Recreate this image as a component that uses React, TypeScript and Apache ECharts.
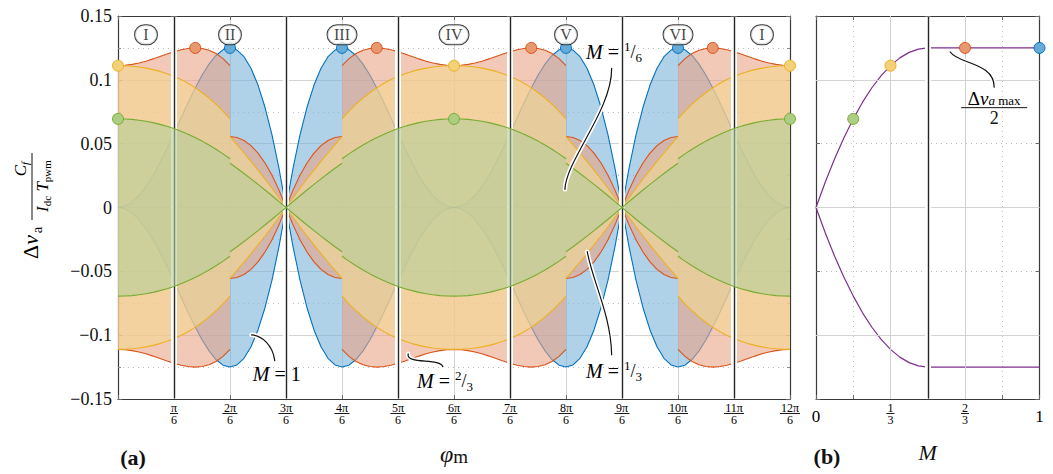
import { useEffect, useRef } from "react";
import * as echarts from "echarts";

// ---------------------------------------------------------------------------
// Data
// ---------------------------------------------------------------------------

// Spacing of the envelope tables below, in units of π/6.
const STEP = 0.125;

// Upper ripple envelope (Δv_a · C_f / (I_dc T_pwm)) over one quarter period,
// φm ∈ [0, 3π/6]. M = 1 is continuous; the other modulation indices jump at
// 2π/6, so they are given as the part before (Lead: 0 → 2π/6) and after
// (Tail: 2π/6 → 3π/6) that jump.
const envM1 = [
  0, 0.0011, 0.0042, 0.0094, 0.0165, 0.0251, 0.0352, 0.0463, 0.058, 0.0701,
  0.082, 0.0933, 0.1036, 0.1123, 0.1191, 0.1235, 0.125, 0.1233, 0.1181, 0.1091,
  0.0959, 0.0785, 0.0568, 0.0306, 0,
];
const envM23Lead = [
  0.1111, 0.1114, 0.1121, 0.1132, 0.1146, 0.1164, 0.1183, 0.1202, 0.122,
  0.1235, 0.1246, 0.125, 0.1246, 0.1232, 0.1206, 0.1166, 0.1111,
];
const envM23Tail = [0.0556, 0.0548, 0.0525, 0.0485, 0.0426, 0.0349, 0.0252, 0.0136, 0];
const envM13Lead = [
  0.1111, 0.111, 0.1106, 0.11, 0.1092, 0.108, 0.1066, 0.1048, 0.1027, 0.1002,
  0.0973, 0.0939, 0.0901, 0.0857, 0.0809, 0.0755, 0.0694,
];
const envM13Tail = [0.0556, 0.0492, 0.0427, 0.0361, 0.0293, 0.0223, 0.0151, 0.0076, 0];
const envM16Lead = [
  0.0694, 0.0693, 0.069, 0.0684, 0.0675, 0.0665, 0.0651, 0.0636, 0.0618,
  0.0597, 0.0574, 0.0548, 0.052, 0.0489, 0.0456, 0.042, 0.0382,
];
const envM16Tail = [0.0347, 0.0307, 0.0266, 0.0224, 0.0181, 0.0137, 0.0092, 0.0046, 0];

// Maxima marked on the envelopes (φm in units of π/6, value).
const peaksM1 = [[2, 0.125], [4, 0.125], [8, 0.125], [10, 0.125]];
const peaksM23 = [[1.38, 0.125], [4.62, 0.125], [7.38, 0.125], [10.62, 0.125]];
const peaksM13 = [[0, 0.1111], [6, 0.1111], [12, 0.1111]];
const peaksM16 = [[0, 0.0694], [6, 0.0694], [12, 0.0694]];

// Sector boundaries (π/6, 3π/6, …) and sector names.
const sectorEdges = [1, 3, 5, 7, 9, 11];
const sectorNames = ["I", "II", "III", "IV", "V", "VI", "I"];
const sectorLabelX = [0.5, 2, 4, 6, 8, 10, 11.5];
const sectorLabelY = 0.1353;

// Panel (b): maximum ripple against modulation index M.
const mRise = [0, 0.0417, 0.0833, 0.125, 0.1667, 0.2083, 0.25, 0.2917, 0.3333, 0.375, 0.4167, 0.4583, 0.5];
const rippleRise = [0, 0.02, 0.0382, 0.0547, 0.0694, 0.0825, 0.0938, 0.1033, 0.1111, 0.1172, 0.1215, 0.1241, 0.125];
const ripplePlateau = [[0.5, 0.125], [1, 0.125]];
const mBoundary = 0.5;
const mMarkers = [[1 / 6, 0.0694], [1 / 3, 0.1111], [2 / 3, 0.125], [1, 0.125]];

// Tick labels.
const phiTickNumerators = ["", "π", "2π", "3π", "4π", "5π", "6π", "7π", "8π", "9π", "10π", "11π", "12π"];
const phiTickDenominator = "6";
const mTickLabels = ["0", "", "1/3", "", "2/3", "", "1"];

// ---------------------------------------------------------------------------
// Styling
// ---------------------------------------------------------------------------

const FONT = '"Liberation Serif", "DejaVu Serif", serif';
const INK = "#111111";
const FRAME = "#3a3a3a";
const GRID_SOLID = "#d3d3d3";
const GRID_DOT = "#bdbdbd";

const C_M1 = "#0072BD";
const C_M23 = "#D95319";
const C_M13 = "#EDB120";
const C_M16 = "#77AC30";
const C_PURPLE = "#7E2F8E";

const F_M1 = "rgba(122,180,217,0.6)";
const F_M23 = "rgba(233,163,135,0.6)";
const F_M13 = "rgba(244,217,145,0.6)";
const F_M16 = "rgba(180,207,152,0.6)";

const D_M1 = "#66AAD7";
const D_M23 = "#E8986F";
const D_M13 = "#F4D079";
const D_M16 = "#ADCD83";

// Leader lines: cubic Bézier (start, control 1, control 2, end) in data units.
const leaders = [
  { grid: 0, path: [[2.385, -0.0997], [2.567, -0.1005], [2.763, -0.1075], [2.799, -0.12]] },
  { grid: 0, path: [[5.181, -0.1146], [5.14, -0.1232], [5.748, -0.1177], [5.801, -0.1247]] },
  { grid: 0, path: [[8.38, -0.0346], [8.464, -0.0567], [8.803, -0.0841], [8.815, -0.1153]] },
  { grid: 0, path: [[7.981, 0.0142], [7.999, 0.0371], [8.821, 0.0763], [8.815, 0.1089]] },
  { grid: 1, path: [[0.6006, 0.1218], [0.6364, 0.1122], [0.7974, 0.1138], [0.7974, 0.0942]] },
];

// ---------------------------------------------------------------------------
// Helpers
// ---------------------------------------------------------------------------

type Pt = [number, number | null];

// One quarter period [0, 3] with an optional break at 2π/6.
function quarter(lead: number[], tail?: number[]): Pt[] {
  const pts: Pt[] = lead.map((v, i) => [i * STEP, v] as Pt);
  if (tail) {
    pts.push([2, null]);
    tail.forEach((v, i) => pts.push([2 + i * STEP, v]));
  }
  return pts;
}

// Quarter → full turn: mirror about 3π/6, then repeat after π.
function fullTurn(q: Pt[]): Pt[] {
  const half: Pt[] = [...q, ...q.slice().reverse().map(([x, y]) => [6 - x, y] as Pt)];
  return [...half, ...half.map(([x, y]) => [x + 6, y] as Pt)];
}

const negate = (pts: Pt[]): Pt[] => pts.map(([x, y]) => [x, y == null ? null : -y] as Pt);

// Upper and lower halves of one envelope band; later bands sit on top.
function band(pts: Pt[], stroke: string, fill: string, z: number) {
  const common = {
    type: "line",
    xAxisIndex: 0,
    yAxisIndex: 0,
    showSymbol: false,
    symbol: "none",
    silent: true,
    connectNulls: false,
    lineStyle: { color: stroke, width: 1.1 },
    areaStyle: { color: fill, opacity: 1 },
    z,
  };
  return [
    { ...common, data: pts },
    { ...common, data: negate(pts) },
  ];
}

function dots(data: number[][], fill: string, stroke: string, xi: number, yi: number) {
  return {
    type: "scatter",
    xAxisIndex: xi,
    yAxisIndex: yi,
    data,
    symbolSize: 11,
    clip: false,
    silent: true,
    itemStyle: { color: fill, borderColor: stroke, borderWidth: 1, opacity: 1 },
    z: 12,
  };
}

const fmtY = (v: number) => {
  const r = Math.round(v * 1000) / 1000;
  if (r === 0) return "0";
  return (r < 0 ? "\u2212" : "") + String(Math.abs(r));
};

const fracRich = {
  n: { fontSize: 12, lineHeight: 9, fontFamily: FONT, color: "#000", align: "center" },
  b1: { width: 8, height: 0.9, lineHeight: 3, fontSize: 1, backgroundColor: "#000" },
  b2: { width: 15, height: 0.9, lineHeight: 3, fontSize: 1, backgroundColor: "#000" },
  b3: { width: 20, height: 0.9, lineHeight: 3, fontSize: 1, backgroundColor: "#000" },
  r: { fontSize: 17, lineHeight: 26, fontFamily: FONT, color: "#000" },
};

const frameLine = { show: true, onZero: false, lineStyle: { color: FRAME, width: 1.2 } };
const tickIn = { show: true, inside: true, length: 4, lineStyle: { color: "#6a6a6a", width: 1 } };

function buildOption() {
  const bandM1 = fullTurn(quarter(envM1));
  const bandM23 = fullTurn(quarter(envM23Lead, envM23Tail));
  const bandM13 = fullTurn(quarter(envM13Lead, envM13Tail));
  const bandM16 = fullTurn(quarter(envM16Lead, envM16Tail));

  const riseUpper = mRise.map((m, i) => [m, rippleRise[i]]);
  const purpleUpper = [...riseUpper, ripplePlateau[1]];
  const purpleLower = purpleUpper.map(([m, v]) => [m, -v]);

  const edgeLines = (xs: number[], color: string, width: number) =>
    xs.map((x) => [
      { coord: [x, -0.1495], lineStyle: { color, width, type: "solid" } },
      { coord: [x, 0.1495] },
    ]);

  const markerColors = [
    [D_M16, C_M16],
    [D_M13, C_M13],
    [D_M23, C_M23],
    [D_M1, C_M1],
  ];

  return {
    animation: false,
    backgroundColor: "#fff",
    textStyle: { fontFamily: FONT },
    grid: [
      { left: 118, top: 16, width: 672, height: 383, outerBoundsMode: "none", containLabel: false },
      { left: 816, top: 16, width: 223.5, height: 383, outerBoundsMode: "none", containLabel: false },
    ],
    xAxis: [
      {
        gridIndex: 0,
        type: "value",
        min: 0,
        max: 12,
        interval: 1,
        position: "bottom",
        axisLine: frameLine,
        axisTick: tickIn,
        axisLabel: {
          margin: 4,
          color: "#000",
          formatter: (v: number) => {
            const num = phiTickNumerators[Math.round(v)];
            if (!num) return "";
            const bar = num.length < 2 ? "b1" : num.length < 3 ? "b2" : "b3";
            return `{n|${num}}\n{${bar}|\u00a0}\n{n|${phiTickDenominator}}`;
          },
          rich: fracRich,
        },
        splitLine: { show: true, lineStyle: { color: GRID_SOLID, width: 1 } },
        name: "{p|φ}{m|m}",
        nameLocation: "middle",
        nameGap: 42,
        nameTextStyle: {
          rich: {
            p: { fontSize: 24, fontStyle: "italic", fontFamily: FONT, color: INK },
            m: { fontSize: 19, fontFamily: FONT, color: INK, padding: [6, 0, 0, 0] },
          },
        },
      },
      {
        gridIndex: 0,
        type: "value",
        min: 0,
        max: 12,
        interval: 1,
        position: "top",
        axisLine: frameLine,
        axisTick: tickIn,
        axisLabel: { show: false },
        splitLine: { show: false },
      },
      {
        gridIndex: 1,
        type: "value",
        min: 0,
        max: 1,
        interval: 1 / 6,
        position: "bottom",
        axisLine: frameLine,
        axisTick: tickIn,
        axisLabel: {
          margin: 4,
          color: "#000",
          formatter: (v: number) => {
            const s = mTickLabels[Math.round(v * 6)];
            if (!s) return "";
            if (s.includes("/")) {
              const [a, b] = s.split("/");
              return `{n|${a}}\n{b1|\u00a0}\n{n|${b}}`;
            }
            return `{r|${s}}`;
          },
          rich: fracRich,
        },
        splitLine: { show: true, lineStyle: { color: GRID_DOT, width: 1, type: [1, 4] } },
        name: "M",
        nameLocation: "middle",
        nameGap: 42,
        nameTextStyle: { fontSize: 22, fontStyle: "italic", fontFamily: FONT, color: INK },
      },
      {
        gridIndex: 1,
        type: "value",
        min: 0,
        max: 1,
        interval: 1 / 6,
        position: "top",
        axisLine: frameLine,
        axisTick: tickIn,
        axisLabel: { show: false },
        splitLine: { show: false },
      },
    ],
    yAxis: [
      {
        gridIndex: 0,
        type: "value",
        min: -0.15,
        max: 0.15,
        interval: 0.05,
        position: "left",
        axisLine: frameLine,
        axisTick: tickIn,
        minorTick: { show: true, splitNumber: 2, length: 3, lineStyle: { color: "#8a8a8a" } },
        axisLabel: { margin: 6, fontSize: 18, color: INK, fontFamily: FONT, formatter: fmtY },
        splitLine: { show: true, lineStyle: { color: GRID_SOLID, width: 1 } },
        minorSplitLine: { show: true, lineStyle: { color: GRID_DOT, width: 1, type: [1, 4] } },
      },
      {
        gridIndex: 0,
        type: "value",
        min: -0.15,
        max: 0.15,
        interval: 0.05,
        position: "right",
        axisLine: frameLine,
        axisTick: tickIn,
        minorTick: { show: true, splitNumber: 2, length: 3, lineStyle: { color: "#8a8a8a" } },
        axisLabel: { show: false },
        splitLine: { show: false },
      },
      {
        gridIndex: 1,
        type: "value",
        min: -0.15,
        max: 0.15,
        interval: 0.05,
        position: "left",
        axisLine: frameLine,
        axisTick: tickIn,
        axisLabel: { show: false },
        splitLine: { show: true, lineStyle: { color: GRID_DOT, width: 1, type: [1, 4] } },
      },
      {
        gridIndex: 1,
        type: "value",
        min: -0.15,
        max: 0.15,
        interval: 0.05,
        position: "right",
        axisLine: frameLine,
        axisTick: tickIn,
        axisLabel: { show: false },
        splitLine: { show: false },
      },
    ],
    series: [
      ...band(bandM1, C_M1, F_M1, 2),
      ...band(bandM23, C_M23, F_M23, 3),
      ...band(bandM13, C_M13, F_M13, 4),
      ...band(bandM16, C_M16, F_M16, 5),

      // Panel (b): solid major grid lines
      {
        type: "line",
        xAxisIndex: 2,
        yAxisIndex: 2,
        data: [],
        silent: true,
        z: 1,
        markLine: {
          silent: true,
          symbol: "none",
          label: { show: false },
          lineStyle: { color: GRID_SOLID, width: 1, type: "solid" },
          data: [
            { xAxis: 1 / 3 },
            { xAxis: 2 / 3 },
            { yAxis: -0.1 },
            { yAxis: 0 },
            { yAxis: 0.1 },
          ],
        },
      },
      // Panel (b): maximum ripple against M
      {
        type: "line",
        xAxisIndex: 2,
        yAxisIndex: 2,
        data: purpleUpper,
        showSymbol: false,
        symbol: "none",
        silent: true,
        lineStyle: { color: C_PURPLE, width: 1.2 },
        z: 2,
      },
      {
        type: "line",
        xAxisIndex: 2,
        yAxisIndex: 2,
        data: purpleLower,
        showSymbol: false,
        symbol: "none",
        silent: true,
        lineStyle: { color: C_PURPLE, width: 1.2 },
        z: 2,
      },

      // Sector boundaries: white gap with a dark rule in the middle
      {
        type: "line",
        xAxisIndex: 0,
        yAxisIndex: 0,
        data: [],
        silent: true,
        z: 9,
        markLine: {
          silent: true,
          symbol: "none",
          label: { show: false },
          data: [...edgeLines(sectorEdges, "#ffffff", 6), ...edgeLines(sectorEdges, "#262626", 1.4)],
        },
      },
      {
        type: "line",
        xAxisIndex: 2,
        yAxisIndex: 2,
        data: [],
        silent: true,
        z: 9,
        markLine: {
          silent: true,
          symbol: "none",
          label: { show: false },
          data: [...edgeLines([mBoundary], "#ffffff", 6), ...edgeLines([mBoundary], "#262626", 1.4)],
        },
      },

      dots(peaksM1, D_M1, C_M1, 0, 0),
      dots(peaksM23, D_M23, C_M23, 0, 0),
      dots(peaksM13, D_M13, C_M13, 0, 0),
      dots(peaksM16, D_M16, C_M16, 0, 0),
      {
        type: "scatter",
        xAxisIndex: 2,
        yAxisIndex: 2,
        symbolSize: 11,
        clip: false,
        silent: true,
        z: 12,
        data: mMarkers.map((p, i) => ({
          value: p,
          itemStyle: { color: markerColors[i][0], borderColor: markerColors[i][1], borderWidth: 1, opacity: 1 },
        })),
      },

      // Sector names
      {
        type: "scatter",
        xAxisIndex: 0,
        yAxisIndex: 0,
        symbolSize: 1,
        silent: true,
        z: 13,
        itemStyle: { color: "rgba(0,0,0,0)" },
        data: sectorLabelX.map((x) => [x, sectorLabelY]),
        label: {
          show: true,
          position: "inside",
          formatter: (p: any) => {
            const s = sectorNames[p.dataIndex];
            const cls = s.length === 1 || s === "II" ? "c1" : "c3";
            return `{${cls}|${s}}`;
          },
          rich: {
            c1: {
              width: 22, height: 19, lineHeight: 19, align: "center",
              borderColor: INK, borderWidth: 1, borderRadius: 10,
              backgroundColor: "#fff", fontSize: 16, fontFamily: FONT, color: INK,
            },
            c3: {
              width: 29, height: 19, lineHeight: 19, align: "center",
              borderColor: INK, borderWidth: 1, borderRadius: 10,
              backgroundColor: "#fff", fontSize: 16, fontFamily: FONT, color: INK,
            },
          },
        },
      },
    ],
  };
}

const annRich = {
  i: { fontSize: 20, fontStyle: "italic", fontFamily: FONT, color: INK, lineHeight: 24 },
  t: { fontSize: 20, fontFamily: FONT, color: INK, lineHeight: 24 },
  u: { fontSize: 13, fontFamily: FONT, color: INK, lineHeight: 24, verticalAlign: "top" },
  s: { fontSize: 18, fontFamily: FONT, color: INK, lineHeight: 24 },
  l: { fontSize: 13, fontFamily: FONT, color: INK, lineHeight: 24, verticalAlign: "bottom" },
};

function buildGraphics(chart: any) {
  const toPx = (g: number, p: number[]) => chart.convertToPixel({ gridIndex: g }, p) as number[];
  const out: any[] = [];

  leaders.forEach(({ grid, path }) => {
    const [a, b, c, d] = path.map((p) => toPx(grid, p));
    const shape = { x1: a[0], y1: a[1], cpx1: b[0], cpy1: b[1], cpx2: c[0], cpy2: c[1], x2: d[0], y2: d[1] };
    out.push({ type: "bezierCurve", shape, silent: true, z: 20, style: { stroke: "#fff", lineWidth: 4.5, lineCap: "round", fill: "none" } });
    out.push({ type: "bezierCurve", shape, silent: true, z: 21, style: { stroke: INK, lineWidth: 1.2, lineCap: "round", fill: "none" } });
  });

  const label = (g: number, at: number[], text: string) => {
    const [x, y] = toPx(g, at);
    out.push({ type: "text", x, y, z: 22, silent: true, style: { text, rich: annRich, align: "center", verticalAlign: "middle" } });
  };
  label(0, [2.834, -0.1302], "{i|M}{t| = 1}");
  label(0, [5.838, -0.1357], "{i|M}{t| = }{u|2}{s|/}{l|3}");
  label(0, [8.857, -0.1279], "{i|M}{t| = }{u|1}{s|/}{l|3}");
  label(0, [8.857, 0.1216], "{i|M}{t| = }{u|1}{s|/}{l|6}");

  // Δv_a max / 2 in panel (b)
  const [fx, fy] = toPx(1, [0.7974, 0.0782]);
  out.push({
    type: "text", x: fx, y: fy - 9, z: 22, silent: true,
    style: {
      text: "{d|Δ}{v|v}{a|a}{m| max}",
      align: "center", verticalAlign: "middle",
      rich: {
        d: { fontSize: 19, fontFamily: FONT, color: INK, lineHeight: 17 },
        v: { fontSize: 19, fontFamily: FONT, fontStyle: "italic", color: INK, lineHeight: 17 },
        a: { fontSize: 13, fontFamily: FONT, fontStyle: "italic", color: INK, lineHeight: 17, verticalAlign: "bottom" },
        m: { fontSize: 13, fontFamily: FONT, color: INK, lineHeight: 17, verticalAlign: "bottom" },
      },
    },
  });
  out.push({ type: "line", z: 22, silent: true, shape: { x1: fx - 33, y1: fy, x2: fx + 33, y2: fy }, style: { stroke: INK, lineWidth: 1 } });
  out.push({
    type: "text", x: fx, y: fy + 10, z: 22, silent: true,
    style: { text: "2", fontSize: 18, lineHeight: 17, fontFamily: FONT, fill: INK, align: "center", verticalAlign: "middle" },
  });

  // Panel tags
  out.push({ type: "text", x: 133, y: 457, silent: true, style: { text: "(a)", fontSize: 22, fontWeight: "bold", fontFamily: FONT, fill: INK, align: "center", verticalAlign: "middle" } });
  out.push({ type: "text", x: 827, y: 456, silent: true, style: { text: "(b)", fontSize: 22, fontWeight: "bold", fontFamily: FONT, fill: INK, align: "center", verticalAlign: "middle" } });

  // Vertical axis title: Δv_a · C_f / (I_dc T_pwm), read bottom to top
  out.push({
    type: "group",
    x: 32,
    y: 209,
    rotation: Math.PI / 2,
    silent: true,
    children: [
      {
        type: "text", x: -38, y: -2,
        style: {
          text: "{d|Δ}{v|v}",
          align: "center", verticalAlign: "middle",
          rich: {
            d: { fontSize: 22, fontFamily: FONT, color: INK, lineHeight: 24 },
            v: { fontSize: 22, fontFamily: FONT, fontStyle: "italic", color: INK, lineHeight: 24 },
          },
        },
      },
      { type: "text", x: -21, y: 5, style: { text: "a", fontSize: 15, fontFamily: FONT, fill: INK, align: "center", verticalAlign: "middle" } },
      { type: "line", shape: { x1: -11, y1: 0, x2: 56, y2: 0 }, style: { stroke: INK, lineWidth: 1 } },
      {
        type: "text", x: 40, y: -12,
        style: {
          text: "{c|C}{f|f}",
          align: "center", verticalAlign: "middle",
          rich: {
            c: { fontSize: 17, fontFamily: FONT, fontStyle: "italic", color: INK, lineHeight: 20 },
            f: { fontSize: 11, fontFamily: FONT, fontStyle: "italic", color: INK, lineHeight: 20, verticalAlign: "bottom" },
          },
        },
      },
      {
        type: "text", x: 23, y: 10,
        style: {
          text: "{c|I}{f|dc}{c| T}{f|pwm}",
          align: "center", verticalAlign: "middle",
          rich: {
            c: { fontSize: 17, fontFamily: FONT, fontStyle: "italic", color: INK, lineHeight: 20 },
            f: { fontSize: 11, fontFamily: FONT, color: INK, lineHeight: 20, verticalAlign: "bottom" },
          },
        },
      },
    ],
  });

  return out;
}

export default function App() {
  const ref = useRef<HTMLDivElement>(null);
  useEffect(() => {
    const el = ref.current;
    if (!el) return;
    const chart = echarts.init(el, null, { renderer: "svg" });
    chart.setOption(buildOption() as any);
    chart.setOption({ graphic: buildGraphics(chart) } as any);
    return () => chart.dispose();
  }, []);
  return (
    <div
      ref={ref}
      style={{ position: "fixed", left: 0, top: 0, width: 1053, height: 474, background: "#fff" }}
    />
  );
}
